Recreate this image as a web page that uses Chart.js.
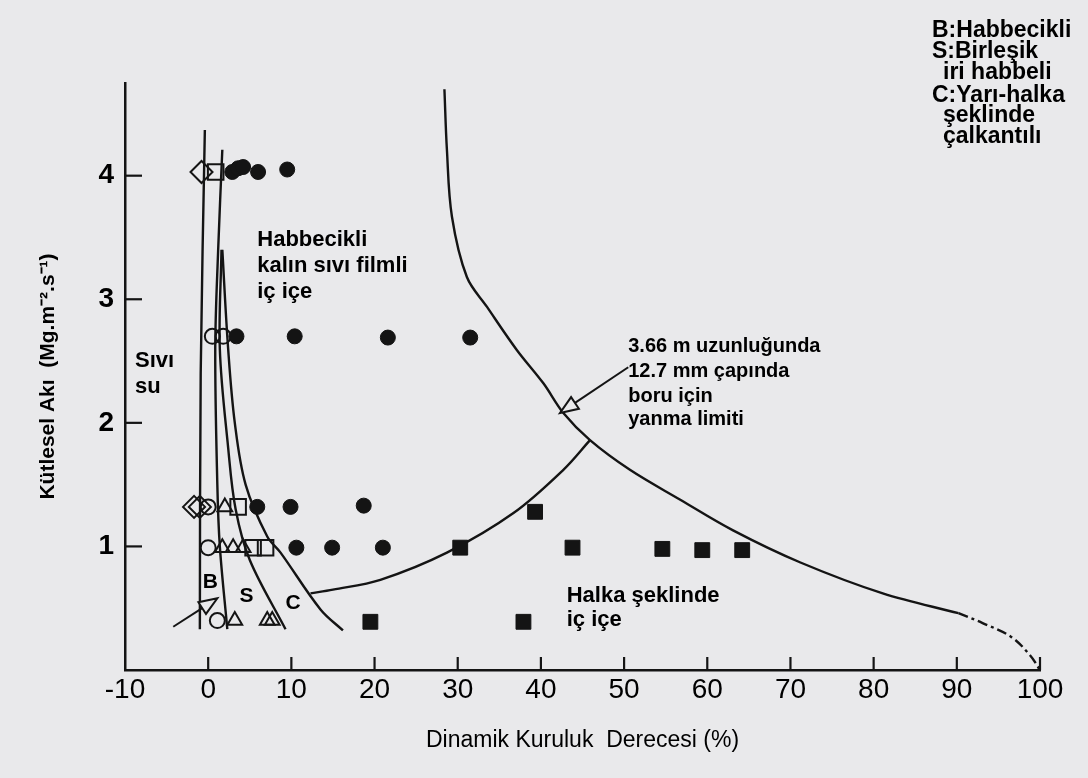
<!DOCTYPE html>
<html><head><meta charset="utf-8">
<script src="https://cdn.jsdelivr.net/npm/chart.js@4.4.1/dist/chart.umd.min.js"></script>
<style>html,body{margin:0;padding:0;background:#e9e9eb;}canvas{display:block}</style>
</head><body>
<canvas id="c" width="1088" height="778" style="width:1088px;height:778px"></canvas>
<script>
// ---- tick labels ----
const X_TICKS = [-10, 0, 10, 20, 30, 40, 50, 60, 70, 80, 90, 100];
const Y_TICKS = [1, 2, 3, 4];

// ---- observation markers (x = dynamic quality %, y = mass flux Mg/m2s) ----
const openDiamondX = [-0.8, -1.7, -1.0];
const openDiamondY = [4.03, 1.32, 1.32];
const openSquareX = [0.9, 3.6, 5.4, 6.9];
const openSquareY = [4.03, 1.32, 0.99, 0.99];
const openCircleX = [0.5, 1.8, 0.0, 0.0, 1.1];
const openCircleY = [2.70, 2.70, 1.32, 0.99, 0.40];
const openTriangleX = [2.0, 1.7, 3.0, 4.2, 3.2, 7.1, 7.7];
const openTriangleY = [1.32, 0.99, 0.99, 0.99, 0.40, 0.40, 0.40];
const filledCircleX = [2.9, 3.6, 4.2, 6.0, 9.5, 3.4, 10.4, 21.6, 31.5, 5.9, 9.9, 18.7, 10.6, 14.9, 21.0];
const filledCircleY = [4.03, 4.06, 4.07, 4.03, 4.05, 2.70, 2.70, 2.69, 2.69, 1.32, 1.32, 1.33, 0.99, 0.99, 0.99];
const filledSquareX = [39.3, 30.3, 43.8, 54.6, 59.4, 64.2, 19.5, 37.9];
const filledSquareY = [1.28, 0.99, 0.99, 0.98, 0.97, 0.97, 0.39, 0.39];

// ---- boundary lines ----
const satLineX = [-1.0, -0.9, -0.4];
const satLineY = [0.33, 2.4, 4.37];
const bsLineX = [2.3, 1.4, 1.1, 0.85, 1.2, 1.7];
const bsLineY = [0.33, 1.0, 1.5, 2.6, 3.4, 4.21];
const scLineX = [9.3, 5.0, 3.3, 2.4, 1.4, 1.6];
const scLineY = [0.33, 0.89, 1.3, 1.8, 2.6, 3.4];
const caLineX = [16.2, 13.5, 8.7, 7.1, 4.5, 3.2, 2.4, 1.7];
const caLineY = [0.32, 0.49, 0.95, 1.08, 1.5, 2.0, 2.6, 3.4];
const waLineX = [12.3, 15.0, 20.7, 28.7, 36.7, 42.7, 45.9];
const waLineY = [0.62, 0.65, 0.73, 0.95, 1.27, 1.62, 1.86];
const burnoutX = [28.4, 28.7, 29.3, 31.1, 33.5, 37.1, 40.3, 42.7, 45.9, 50.7, 56.7, 63.1, 71.2, 81.1, 90.2];
const burnoutY = [4.70, 4.21, 3.67, 3.18, 2.94, 2.59, 2.32, 2.08, 1.86, 1.62, 1.38, 1.13, 0.87, 0.62, 0.46];
const burnoutDashX = [90.2, 93.1, 96.5, 98.8, 100];
const burnoutDashY = [0.46, 0.38, 0.27, 0.12, 0];

// ---- annotation arrows (data coords: tail -> tip) ----
const burnoutArrow = [[50.5, 2.45], [42.3, 2.08]];
const bArrow = [[-4.2, 0.35], [1.1, 0.58]];

// ---- text ----
const X_TITLE = 'Dinamik Kuruluk  Derecesi (%)';
const Y_TITLE = 'Kütlesel Akı  (Mg.m⁻².s⁻¹)';
const plotTexts = [
  {t: 'Sıvı', x: -8.8, y: 2.45, s: 22},
  {t: 'su', x: -8.8, y: 2.24, s: 22},
  {t: 'Habbecikli', x: 5.9, y: 3.43, s: 22},
  {t: 'kalın sıvı filmli', x: 5.9, y: 3.22, s: 22},
  {t: 'iç içe', x: 5.9, y: 3.01, s: 22},
  {t: '3.66 m uzunluğunda', x: 50.5, y: 2.57, s: 20},
  {t: '12.7 mm çapında', x: 50.5, y: 2.37, s: 20},
  {t: 'boru için', x: 50.5, y: 2.17, s: 20},
  {t: 'yanma limiti', x: 50.5, y: 1.98, s: 20},
  {t: 'Halka şeklinde', x: 43.1, y: 0.55, s: 22},
  {t: 'iç içe', x: 43.1, y: 0.36, s: 22}
];
const regionLetters = [
  {t: 'B', x: 0.25, y: 0.66},
  {t: 'S', x: 4.6, y: 0.55},
  {t: 'C', x: 10.2, y: 0.49}
];
const legendLines = ['B:Habbecikli', 'S:Birleşik', 'iri habbeli', 'C:Yarı-halka', 'şeklinde', 'çalkantılı'];
const legendIndent = [0, 0, 1, 0, 1, 1];

const INK = '#141414';
const BG = '#e9e9eb';
const FONT = '"Liberation Sans", Arial, sans-serif';
const pts = (xs, ys) => xs.map((v, i) => ({x: v, y: ys[i]}));

function markerSet(xs, ys, style, radius, filled) {
  return {data: pts(xs, ys), showLine: false, pointStyle: style, pointRadius: radius,
    pointBackgroundColor: filled ? INK : 'rgba(0,0,0,0)', pointBorderColor: INK,
    pointBorderWidth: filled ? 1 : 2, order: 1};
}
function lineSet(xs, ys, dash) {
  return {data: pts(xs, ys), showLine: true, pointRadius: 0, borderColor: INK, borderWidth: 2.4,
    tension: 0.35, fill: false, borderDash: dash || [], order: 2};
}

const decor = {
  id: 'decor',
  beforeDraw(chart) {
    const c = chart.ctx;
    c.save(); c.fillStyle = BG; c.fillRect(0, 0, chart.width, chart.height); c.restore();
  },
  afterDraw(chart) {
    const c = chart.ctx, xs = chart.scales.x, ys = chart.scales.y, a = chart.chartArea;
    c.save();
    c.strokeStyle = INK; c.lineWidth = 2.2; c.lineCap = 'butt';
    X_TICKS.forEach(v => { if (v === -10) return; const px = xs.getPixelForValue(v);
      c.beginPath(); c.moveTo(px, a.bottom); c.lineTo(px, a.bottom - 13); c.stroke(); });
    Y_TICKS.forEach(v => { const py = ys.getPixelForValue(v);
      c.beginPath(); c.moveTo(a.left, py); c.lineTo(a.left + 17, py); c.stroke(); });
    function arrow(seg) {
      const x0 = xs.getPixelForValue(seg[0][0]), y0 = ys.getPixelForValue(seg[0][1]);
      const x1 = xs.getPixelForValue(seg[1][0]), y1 = ys.getPixelForValue(seg[1][1]);
      const ang = Math.atan2(y1 - y0, x1 - x0), L = 18, W = 7;
      const bx = x1 - L * Math.cos(ang), by = y1 - L * Math.sin(ang);
      c.lineWidth = 2;
      c.beginPath(); c.moveTo(x0, y0); c.lineTo(bx, by); c.stroke();
      c.beginPath(); c.moveTo(x1, y1);
      c.lineTo(bx + W * Math.sin(ang), by - W * Math.cos(ang));
      c.lineTo(bx - W * Math.sin(ang), by + W * Math.cos(ang));
      c.closePath(); c.fillStyle = BG; c.fill(); c.stroke();
    }
    arrow(burnoutArrow); arrow(bArrow);
    c.fillStyle = '#000'; c.textBaseline = 'alphabetic'; c.textAlign = 'left';
    plotTexts.forEach(o => { c.font = 'bold ' + o.s + 'px ' + FONT;
      c.fillText(o.t, xs.getPixelForValue(o.x), ys.getPixelForValue(o.y)); });
    c.font = 'bold 21px ' + FONT; c.textAlign = 'center';
    regionLetters.forEach(o => c.fillText(o.t, xs.getPixelForValue(o.x), ys.getPixelForValue(o.y)));
    c.font = 'bold 23px ' + FONT; c.textAlign = 'left';
    const baselines = [37, 58, 79, 102, 122, 143];
    legendLines.forEach((t, i) => c.fillText(t, 932 + legendIndent[i] * 11, baselines[i]));
    c.restore();
  }
};

new Chart(document.getElementById('c'), {
  type: 'scatter',
  data: {datasets: [
    lineSet(satLineX, satLineY), lineSet(bsLineX, bsLineY), lineSet(scLineX, scLineY),
    lineSet(caLineX, caLineY), lineSet(waLineX, waLineY), lineSet(burnoutX, burnoutY),
    lineSet(burnoutDashX, burnoutDashY, [10, 4, 3, 4]),
    markerSet(filledSquareX, filledSquareY, 'rect', 10.5, true),
    markerSet(filledCircleX, filledCircleY, 'circle', 7.5, true),
    markerSet(openDiamondX, openDiamondY, 'rectRot', 11, false),
    markerSet(openSquareX, openSquareY, 'rect', 11, false),
    markerSet(openCircleX, openCircleY, 'circle', 7.5, false),
    markerSet(openTriangleX, openTriangleY, 'triangle', 8.5, false)
  ]},
  options: {
    responsive: false, animation: false, events: [],
    layout: {padding: {top: 83, right: 48, bottom: 0, left: 0}},
    plugins: {legend: {display: false}, tooltip: {enabled: false}},
    scales: {
      x: {type: 'linear', min: -10, max: 100,
        afterBuildTicks: s => { s.ticks = X_TICKS.map(v => ({value: v})); },
        afterFit: s => { s.height = 108; },
        grid: {display: true, drawOnChartArea: false, drawTicks: false},
        border: {display: true, color: INK, width: 2.5},
        ticks: {color: '#000', padding: 3, maxRotation: 0, autoSkip: false,
          font: {family: FONT, size: 28}},
        title: {display: true, text: X_TITLE, color: '#000', padding: {top: 0, bottom: 24},
          font: {family: FONT, size: 23}}
      },
      y: {type: 'linear', min: 0, max: 4.75,
        afterBuildTicks: s => { s.ticks = Y_TICKS.map(v => ({value: v})); },
        afterFit: s => { s.width = 125; },
        grid: {display: true, drawOnChartArea: false, drawTicks: false},
        border: {display: true, color: INK, width: 2.5},
        ticks: {color: '#000', padding: 11, autoSkip: false,
          font: {family: FONT, size: 28, weight: 'bold'}},
        title: {display: true, text: Y_TITLE, color: '#000', padding: {top: 36, bottom: 0},
          font: {family: FONT, size: 21, weight: 'bold'}}
      }
    }
  },
  plugins: [decor]
});
</script></body></html>
